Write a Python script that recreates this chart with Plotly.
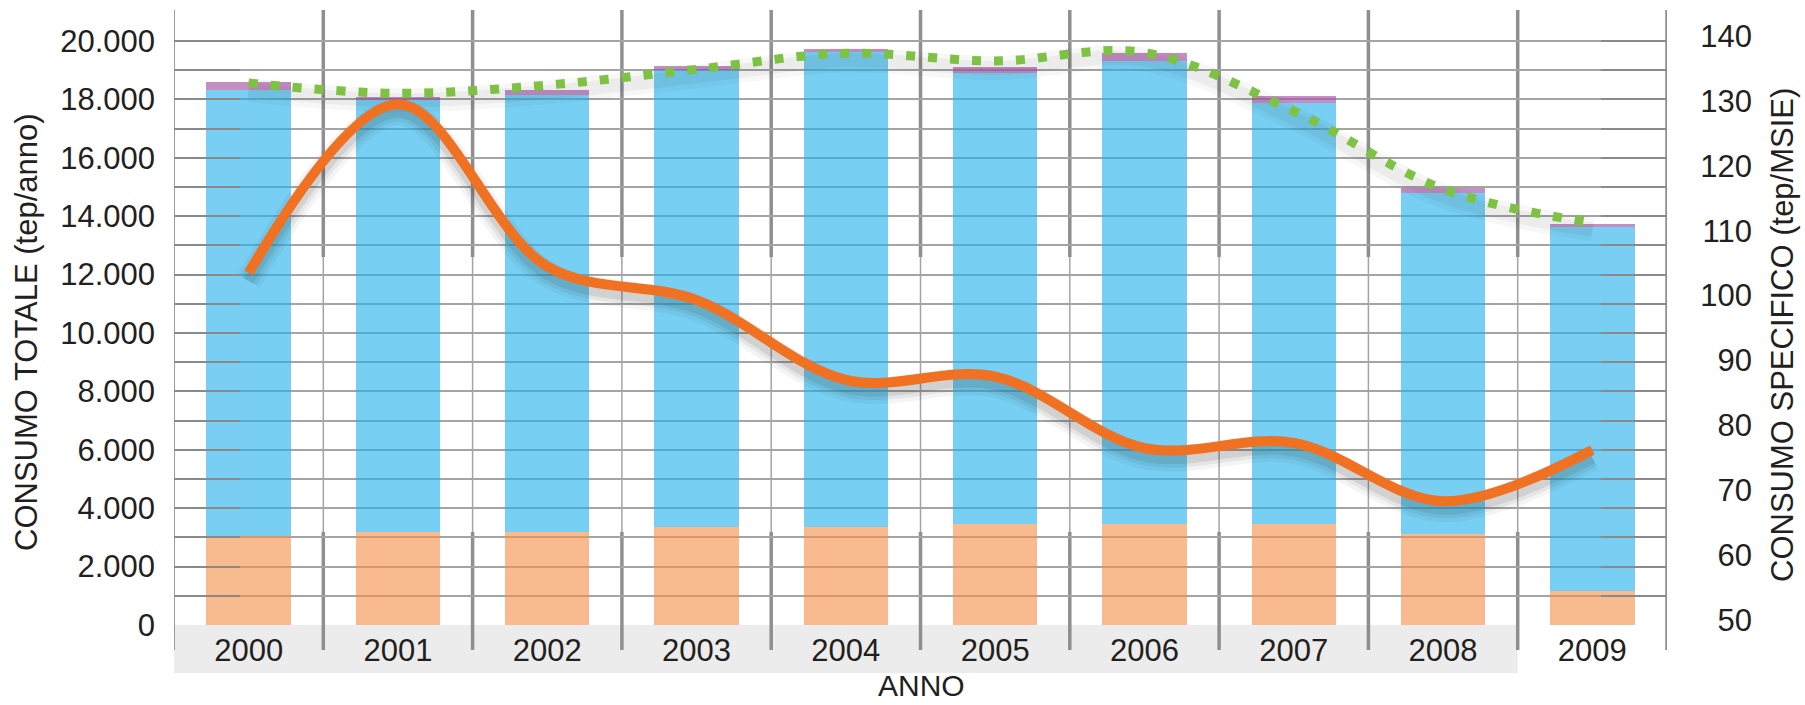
import plotly.graph_objects as go

# --- data -------------------------------------------------------------
anni = ["2000", "2001", "2002", "2003", "2004", "2005", "2006", "2007", "2008", "2009"]

# stacked components of total consumption (tep/anno)
quota_base = [3050, 3200, 3200, 3340, 3340, 3460, 3460, 3450, 3130, 1150]
quota_media = [15280, 14765, 14940, 15660, 16290, 15440, 15840, 14410, 11670, 12480]
quota_alta = [270, 115, 190, 150, 90, 215, 300, 240, 180, 120]

# trend of total consumption (tep/anno), dotted line
andamento_totale = [18560, 18210, 18490, 19030, 19580, 19315, 19600, 17600, 14930, 13770]

# specific consumption (tep/MSIE), right axis
consumo_specifico = [103.5, 129.5, 104.5, 99.3, 87.0, 87.5, 76.5, 77.3, 68.3, 76.2]

tick_sx = list(range(0, 20001, 1000))
etichette_sx = [f"{v:,}".replace(",", ".") if v % 2000 == 0 else "" for v in tick_sx]
tick_dx = list(range(50, 141, 10))

# --- geometry helpers ---------------------------------------------------
W, H = 1805, 705
M_L, M_R, M_T, M_B = 174, 40, 10, 80
plot_w_px = 1493
paper_w = W - M_L - M_R
plot_h = H - M_T - M_B
x_dom_end = plot_w_px / paper_w

px_per_unit_sx = 584 / 20000
range_sx = [0, plot_h / px_per_unit_sx]
px_per_unit_dx = 584 / 90
range_dx = [50 - 5 / px_per_unit_dx, 140 + 26 / px_per_unit_dx]

def py(px):
    """pixel row -> paper y"""
    return (H - M_B - px) / plot_h

def px_x(px):
    """pixel column -> paper x"""
    return (px - M_L) / paper_w

FONT = "Liberation Sans, Arial, sans-serif"
TXT = "#231f20"
GRID = "#a4a4a4"
SEP = "#8f8f8f"

# downward offset of the line shadows
sh_dy_dx = 8 / px_per_unit_dx
sh_dy_sx = 7 / px_per_unit_sx

fig = go.Figure()

# bars are slightly translucent so the grid shows through them
bar_w = 0.565
fig.add_trace(go.Bar(x=anni, y=quota_base, width=bar_w, name="base",
                     marker=dict(color="#F4904A", line=dict(width=0)), opacity=0.62))
fig.add_trace(go.Bar(x=anni, y=quota_media, width=bar_w, name="media",
                     marker=dict(color="#25B2EC", line=dict(width=0)), opacity=0.62))
fig.add_trace(go.Bar(x=anni, y=quota_alta, width=bar_w, name="alta",
                     marker=dict(color="#A656A6", line=dict(width=0)), opacity=0.66))

# soft shadows under the lines
for w, a in [(26, 0.05), (18, 0.07), (11, 0.10)]:
    fig.add_trace(go.Scatter(x=anni, y=consumo_specifico, mode="lines", yaxis="y2",
                             line=dict(color=f"rgba(40,40,40,{a})", width=w, shape="spline", smoothing=1.0),
                             hoverinfo="skip", showlegend=False))
for w, a in [(24, 0.035), (14, 0.05)]:
    fig.add_trace(go.Scatter(x=anni, y=andamento_totale, mode="lines", yaxis="y3",
                             line=dict(color=f"rgba(40,40,40,{a})", width=w, shape="spline", smoothing=1.0),
                             hoverinfo="skip", showlegend=False))

fig.add_trace(go.Scatter(x=anni, y=consumo_specifico, mode="lines", yaxis="y4",
                         name="CONSUMO SPECIFICO",
                         line=dict(color="#F07122", width=10, shape="spline", smoothing=1.0)))
fig.add_trace(go.Scatter(x=anni, y=andamento_totale, mode="lines", yaxis="y5",
                         name="CONSUMO TOTALE",
                         line=dict(color="#7DC242", width=9, dash="9px,13px",
                                   shape="spline", smoothing=1.0)))

# --- decorations --------------------------------------------------------
shapes = []
# grey band under the year labels (2000-2008)
shapes.append(dict(type="rect", xref="x", yref="paper", x0=-0.5, x1=8.5,
                   y0=py(673), y1=0, fillcolor="#ececec", line=dict(width=0), layer="below"))
n = len(anni)
for k in range(n + 1):
    xk = k - 0.5
    if k == 0:
        shapes.append(dict(type="line", xref="x", yref="paper", x0=xk, x1=xk,
                           y0=py(650), y1=py(10), line=dict(color="#9c9c9c", width=2), layer="between"))
    elif k == n:
        shapes.append(dict(type="line", xref="x", yref="paper", x0=xk, x1=xk,
                           y0=py(650), y1=py(10), line=dict(color=SEP, width=3.5), layer="between"))
    else:
        shapes.append(dict(type="line", xref="x", yref="paper", x0=xk, x1=xk,
                           y0=py(257), y1=py(10), line=dict(color=SEP, width=3.5), layer="between"))
        shapes.append(dict(type="line", xref="x", yref="paper", x0=xk, x1=xk,
                           y0=py(532), y1=py(257), line=dict(color=GRID, width=1.5), layer="between"))
        shapes.append(dict(type="line", xref="x", yref="paper", x0=xk, x1=xk,
                           y0=py(650), y1=py(532), line=dict(color=SEP, width=3.5), layer="between"))

annotations = [
    dict(text="CONSUMO TOTALE (tep/anno)", xref="paper", yref="paper",
         x=px_x(26), y=py(332), textangle=-90, showarrow=False,
         xanchor="center", yanchor="middle", font=dict(size=31, color=TXT, family=FONT)),
    dict(text="CONSUMO SPECIFICO (tep/MSIE)", xref="paper", yref="paper",
         x=px_x(1782), y=py(335), textangle=-90, showarrow=False,
         xanchor="center", yanchor="middle", font=dict(size=31, color=TXT, family=FONT)),
    dict(text="ANNO", xref="paper", yref="paper",
         x=px_x(921), y=py(685), showarrow=False,
         xanchor="center", yanchor="middle", font=dict(size=30, color=TXT, family=FONT)),
]

xr = [-0.5, n - 0.5]
fig.update_layout(
    width=W, height=H,
    margin=dict(l=M_L, r=M_R, t=M_T, b=M_B, pad=0),
    paper_bgcolor="white", plot_bgcolor="white",
    barmode="stack", showlegend=False,
    font=dict(family=FONT, size=31, color=TXT),
    xaxis=dict(domain=[0, x_dom_end], range=xr, type="category", categoryarray=anni,
               showgrid=False, zeroline=False, showline=False, ticks="",
               ticklabelstandoff=4, tickfont=dict(size=31, color=TXT)),
    yaxis=dict(range=range_sx, tickmode="array", tickvals=tick_sx, ticktext=etichette_sx,
               showgrid=True, gridcolor=GRID, gridwidth=1.7, zeroline=False, showline=False,
               ticks="inside", ticklen=66, tickcolor="#8a8a8a", tickwidth=1.7, mirror="ticks",
               ticklabelstandoff=18, tickfont=dict(size=31, color=TXT)),
    yaxis2=dict(overlaying="y", range=[range_dx[0] + sh_dy_dx, range_dx[1] + sh_dy_dx],
                visible=False),
    yaxis3=dict(overlaying="y", range=[range_sx[0] + sh_dy_sx, range_sx[1] + sh_dy_sx],
                visible=False),
    yaxis4=dict(overlaying="y", anchor="free", position=px_x(1752), side="left",
                range=range_dx, tickmode="array", tickvals=tick_dx,
                showgrid=False, zeroline=False, showline=False, ticks="",
                ticklabelstandoff=0, tickfont=dict(size=31, color=TXT)),
    yaxis5=dict(overlaying="y", range=range_sx, visible=False),
    shapes=shapes,
    annotations=annotations,
)

fig.write_html("out.html")
